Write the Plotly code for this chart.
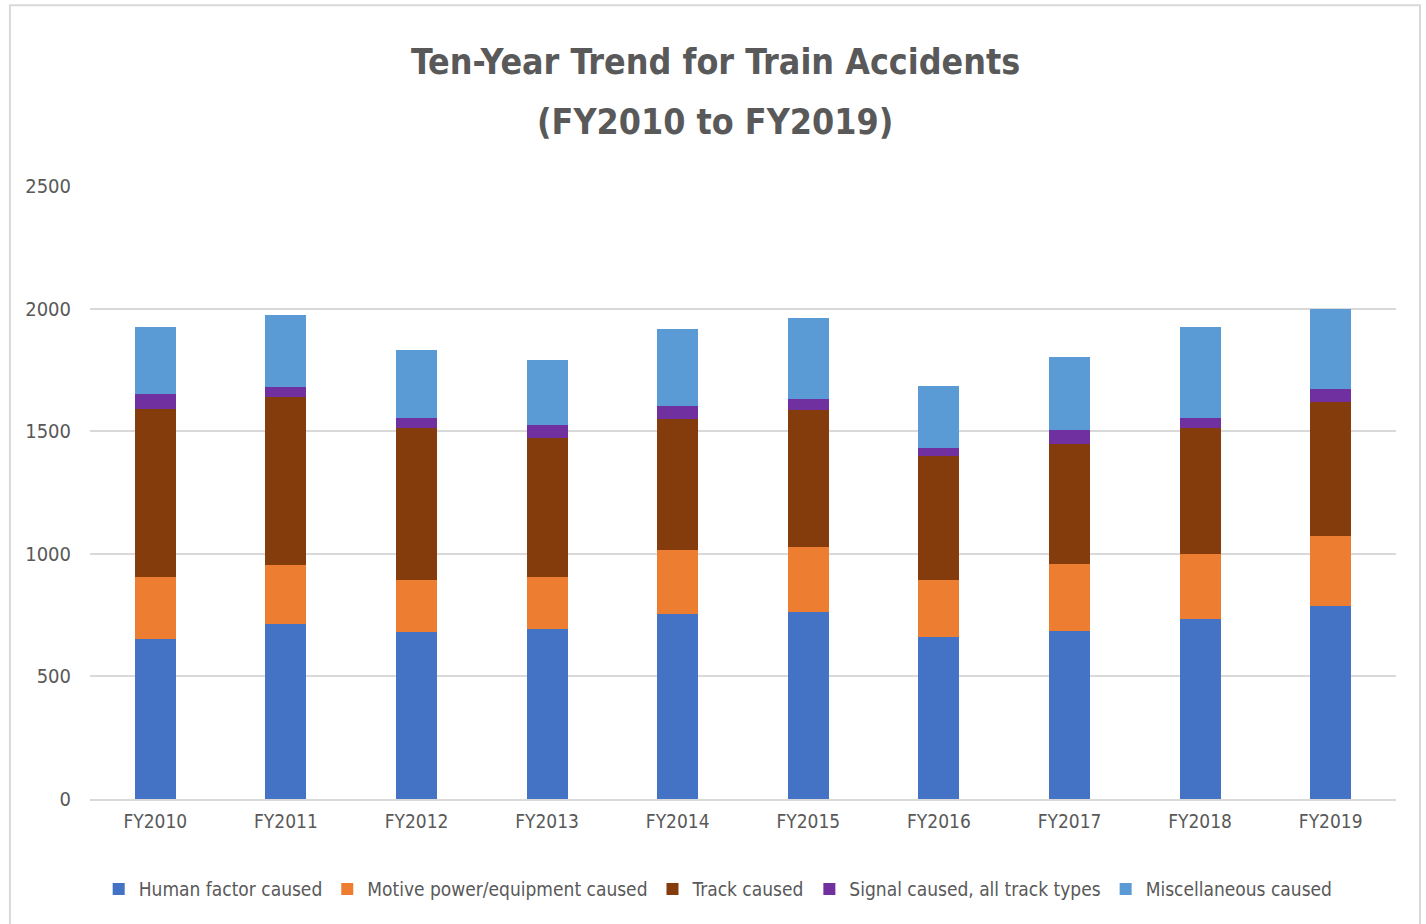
import plotly.graph_objects as go

years = ["FY2010", "FY2011", "FY2012", "FY2013", "FY2014",
         "FY2015", "FY2016", "FY2017", "FY2018", "FY2019"]
human_factor = [654, 713, 683, 692, 756, 762, 662, 685, 734, 789]
motive_power = [253, 243, 212, 214, 260, 265, 232, 275, 266, 283]
track = [685, 682, 618, 565, 532, 560, 504, 489, 513, 548]
signal = [58, 42, 40, 54, 54, 44, 34, 55, 40, 51]
miscellaneous = [275, 294, 277, 267, 316, 332, 253, 299, 372, 327]

series_names = ["Human factor caused", "Motive power/equipment caused", "Track caused",
                "Signal caused, all track types", "Miscellaneous caused"]
series_values = [human_factor, motive_power, track, signal, miscellaneous]
series_colors = ["#4472C4", "#ED7D31", "#843C0C", "#7030A0", "#5B9BD5"]

FONT = "DejaVu Sans Condensed, Liberation Sans Narrow, sans-serif"
GRAY = "#595959"

fig = go.Figure()
for name, vals, col in zip(series_names, series_values, series_colors):
    fig.add_trace(go.Bar(x=years, y=vals, name=name, marker=dict(color=col, line=dict(width=0))))

fig.update_layout(
    barmode="stack",
    bargap=0.685,
    width=1426, height=924,
    margin=dict(l=90, r=30, t=186, b=125, autoexpand=False),
    paper_bgcolor="white", plot_bgcolor="white",
    font=dict(family=FONT, size=20, color=GRAY),
    legend=dict(orientation="h", x=0.481, xanchor="center", y=-0.147, yanchor="middle",
                font=dict(size=19, color=GRAY), traceorder="normal", itemwidth=30),
    xaxis=dict(showline=True, linecolor="#D9D9D9", linewidth=2, ticks="", showgrid=False,
               ticklabelstandoff=4, tickfont=dict(size=19, color=GRAY)),
    yaxis=dict(range=[0, 2500], dtick=500, showgrid=True, gridcolor="#D9D9D9", gridwidth=2,
               zeroline=False, ticks="", ticklabelstandoff=18, tickfont=dict(size=20, color=GRAY)),
    annotations=[
        dict(text="<b>Ten-Year Trend for Train Accidents</b>", xref="paper", yref="paper",
             x=0.4786, y=1.2023, xanchor="center", yanchor="middle", showarrow=False,
             font=dict(size=35.5, color=GRAY, family=FONT)),
        dict(text="<b>(FY2010 to FY2019)</b>", xref="paper", yref="paper",
             x=0.4786, y=1.106, xanchor="center", yanchor="middle", showarrow=False,
             font=dict(size=35.5, color=GRAY, family=FONT)),
    ],
    shapes=[dict(type="rect", xref="paper", yref="paper", x0=-0.0613, x1=1.0184, y0=-0.3, y1=1.295,
                 line=dict(color="#D9D9D9", width=2), layer="below")],
)

fig.write_html("out.html", config={"displayModeBar": False},
               post_script="document.body.style.margin='0';document.body.style.overflow='hidden';")
